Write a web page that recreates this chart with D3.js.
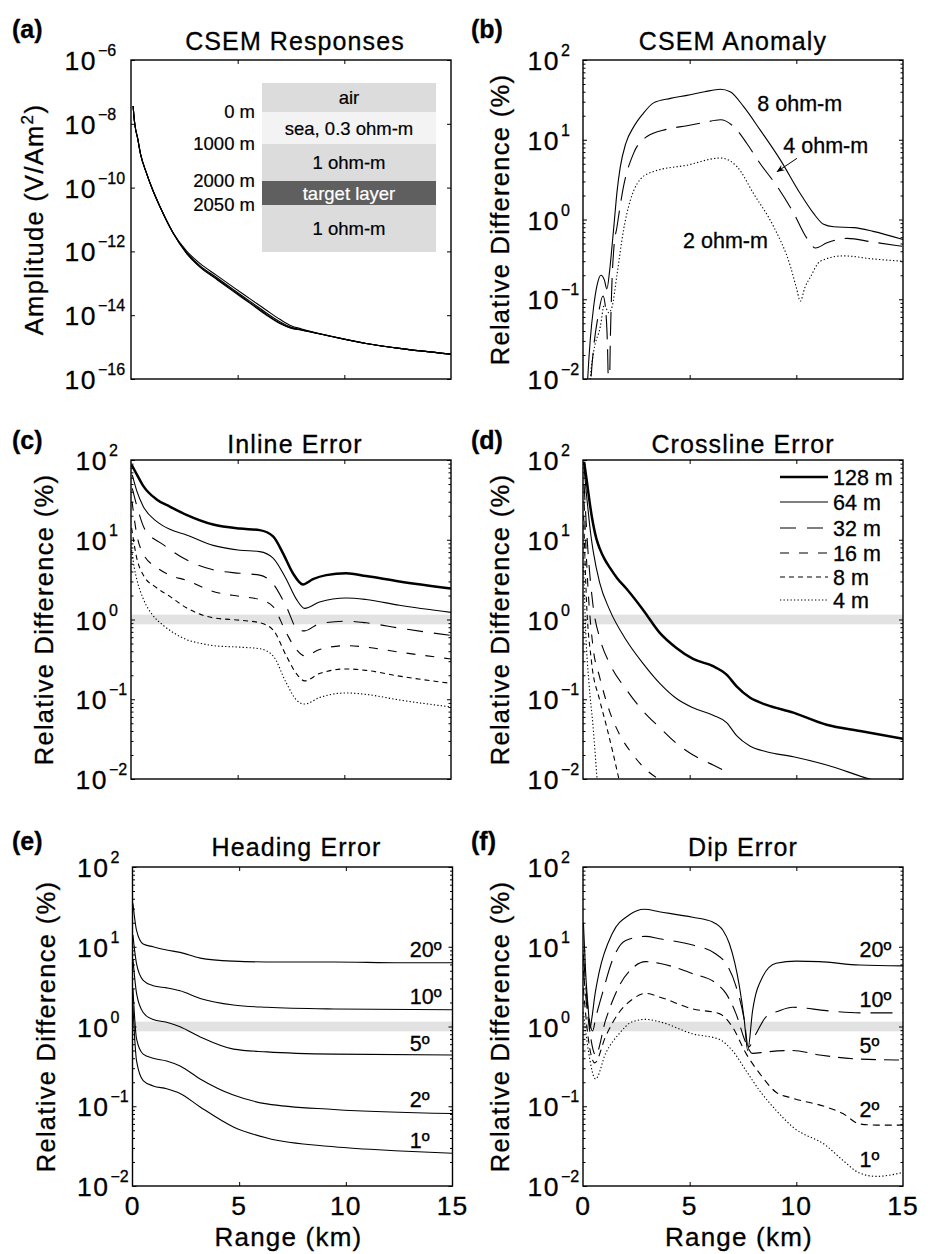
<!DOCTYPE html>
<html>
<head>
<meta charset="utf-8">
<title>CSEM navigation errors</title>
<script src="https://cdn.jsdelivr.net/npm/d3@7"></script>
<style>
  body { margin: 0; background: #fff; }
  svg { display: block; font-family: "Liberation Sans", Arial, Helvetica, sans-serif; }
  text { stroke: #000; stroke-width: 0.3px; }
  .title { font-size: 25px; letter-spacing: 1.1px; text-anchor: middle; }
  .ylab { font-size: 25.5px; letter-spacing: 1.3px; text-anchor: middle; }
  .xlab { font-size: 26px; letter-spacing: 1.2px; text-anchor: middle; }
  .tick10 { font-size: 26.5px; letter-spacing: 1.5px; text-anchor: end; }
  .tickExp { font-size: 16px; }
  .xtick { font-size: 26.5px; letter-spacing: 1px; text-anchor: middle; }
  .letter { font-size: 25px; font-weight: bold; }
  .note { font-size: 21.5px; }
  .inset { font-size: 18.5px; stroke-width: 0.2px; }
  .axis path { display: none; }
  .axis line { stroke: #000; stroke-width: 1; }
</style>
</head>
<body>
<svg id="chart" width="933" height="1254"></svg>
<script>
// ---------- data ----------

// (a) csem responses, amplitude (V/Am^2) vs range (km)
const rangeA = [0.1, 0.15, 0.22, 0.3, 0.45, 0.73, 1.0, 1.36, 1.98, 2.6, 3.23, 4.0, 4.79, 5.6, 6.35, 7.0, 7.5, 8.0, 9.46, 11.02, 12.58, 15];
const ampBackground = [3.6e-8, 1.4e-8, 6.5e-9, 3.8e-9, 1.1e-9, 2.8e-10, 9e-11, 2.5e-11, 3.7e-12, 8.7e-13, 3.2e-13, 1.35e-13, 5.6e-14, 2.3e-14, 1.0e-14, 5.4e-15, 3.9e-15, 3.4e-15, 2.1e-15, 1.3e-15, 9.1e-16, 6.0e-16];
const amp2 = [3.6e-8, 1.4e-8, 6.5e-9, 3.8e-9, 1.1e-9, 2.8e-10, 9e-11, 2.5e-11, 3.7e-12, 9.0e-13, 3.33e-13, 1.42e-13, 5.9e-14, 2.44e-14, 1.06e-14, 5.6e-15, 4.0e-15, 3.42e-15, 2.1e-15, 1.3e-15, 9.1e-16, 6.0e-16];
const amp4 = [3.6e-8, 1.4e-8, 6.5e-9, 3.8e-9, 1.1e-9, 2.8e-10, 9e-11, 2.5e-11, 3.7e-12, 9.4e-13, 3.6e-13, 1.54e-13, 6.4e-14, 2.67e-14, 1.17e-14, 6.1e-15, 4.2e-15, 3.5e-15, 2.12e-15, 1.3e-15, 9.1e-16, 6.0e-16];
const amp8 = [3.6e-8, 1.4e-8, 6.5e-9, 3.8e-9, 1.1e-9, 2.8e-10, 9e-11, 2.5e-11, 3.75e-12, 1.04e-12, 4.2e-13, 1.8e-13, 7.6e-14, 3.2e-14, 1.43e-14, 7.3e-15, 4.7e-15, 3.7e-15, 2.15e-15, 1.3e-15, 9.1e-16, 6.0e-16];
const layerNames = ["air", "sea, 0.3 ohm-m", "1 ohm-m", "target layer", "1 ohm-m"];
const layerDepths = ["0 m", "1000 m", "2000 m", "2050 m"];

// (b) csem anomaly, relative difference (%) : [range km, value]
const anom8 = [[0.15, 0.004], [0.22, 0.01], [0.34, 0.031], [0.5, 0.081], [0.66, 0.15], [0.84, 0.2], [1.0, 0.175], [1.12, 0.135], [1.25, 0.23], [1.36, 0.46], [1.46, 0.9], [1.6, 2.3], [1.75, 4.6], [2.0, 8.9], [2.375, 14.5], [2.8, 21], [3.31, 29], [4.1, 33], [4.875, 36], [5.7, 40], [6.44, 43], [6.9, 40], [7.53, 26], [8.31, 13.2], [9.25, 5.6], [10.19, 2.1], [10.8, 1.2], [11.28, 0.87], [11.75, 0.81], [12.69, 0.79], [13.6, 0.71], [15, 0.56]];
const anom4 = [[0.3, 0.004], [0.375, 0.01], [0.5, 0.025], [0.7, 0.06], [0.94, 0.11], [1.05, 0.08], [1.15, 0.025], [1.22, 0.004], [1.28, 0.03], [1.36, 0.17], [1.45, 0.45], [1.59, 0.8], [1.9, 2.6], [2.375, 6.8], [3.0, 11], [3.9, 13.5], [4.875, 15], [5.7, 16.5], [6.44, 17.8], [7.22, 13.2], [7.69, 8.9], [8.31, 5.0], [9.1, 2.6], [9.875, 1.2], [10.5, 0.58], [10.9, 0.44], [11.44, 0.51], [12.375, 0.58], [13.6, 0.52], [15, 0.46]];
const anom2 = [[0.25, 0.004], [0.34, 0.01], [0.5, 0.022], [0.81, 0.045], [1.0, 0.085], [1.2, 0.068], [1.36, 0.08], [1.59, 0.2], [1.9, 0.74], [2.06, 1.2], [2.69, 3.2], [3.31, 4.0], [4.875, 4.8], [6.44, 5.9], [7.22, 4.6], [8.0, 2.1], [8.94, 0.81], [9.72, 0.26], [10.0, 0.14], [10.19, 0.095], [10.4, 0.14], [10.66, 0.19], [11.125, 0.3], [12.2, 0.35], [13.6, 0.32], [15, 0.3]];
const anomNames = ["8 ohm-m", "4 ohm-m", "2 ohm-m"];

// (c) inline error, relative difference (%)
const inline128 = [[0.03, 87], [0.27, 66], [0.58, 47], [1.2, 32], [1.82, 26], [2.6, 20.5], [3.85, 15.5], [5.1, 13.8], [6.03, 13.2], [6.66, 11], [7.12, 6.8], [7.59, 3.8], [8.06, 2.75], [8.53, 3.2], [9.15, 3.6], [10.09, 3.8], [11.02, 3.5], [12.58, 3.0], [15, 2.45]];
const inline64 = [[0.06, 65], [0.27, 41], [0.58, 26], [1.2, 17], [1.82, 13.5], [2.6, 11.5], [3.85, 8.5], [5.1, 7.4], [6.03, 7.1], [6.66, 5.9], [7.28, 3.2], [7.75, 1.8], [8.14, 1.38], [8.84, 1.66], [10.09, 1.86], [11.02, 1.78], [12.58, 1.51], [15, 1.23]];
const inline32 = [[0.06, 44], [0.34, 23], [0.65, 13.5], [1.51, 8.7], [2.6, 5.6], [3.85, 4.2], [5.1, 3.8], [6.03, 3.6], [6.66, 2.8], [7.28, 1.45], [7.83, 0.74], [8.14, 0.72], [8.84, 0.89], [10.09, 0.95], [11.02, 0.91], [12.58, 0.78], [15, 0.63]];
const inline16 = [[0.05, 30], [0.27, 11.7], [0.58, 6.6], [1.2, 4.5], [1.82, 3.6], [2.6, 3.1], [3.85, 2.25], [5.1, 1.95], [6.03, 1.78], [6.66, 1.45], [7.28, 0.68], [7.75, 0.42], [8.14, 0.35], [8.84, 0.42], [10.09, 0.47], [11.02, 0.45], [12.58, 0.39], [15, 0.32]];
const inline8 = [[0.03, 14], [0.27, 5.9], [0.58, 3.6], [1.2, 2.5], [1.82, 1.95], [2.6, 1.4], [3.85, 1.05], [5.1, 0.98], [6.03, 0.91], [6.66, 0.74], [7.28, 0.35], [7.75, 0.21], [8.14, 0.17], [8.84, 0.21], [10.09, 0.24], [11.02, 0.23], [12.58, 0.195], [15, 0.158]];
const inline4 = [[0.03, 7.4], [0.15, 4.5], [0.27, 3.2], [0.58, 1.8], [1.0, 1.15], [1.5, 0.85], [2.0, 0.68], [2.6, 0.56], [3.3, 0.5], [3.85, 0.47], [5.1, 0.45], [6.03, 0.43], [6.66, 0.35], [7.28, 0.16], [7.75, 0.098], [8.14, 0.087], [8.84, 0.105], [10.09, 0.12], [11.02, 0.115], [12.58, 0.098], [15, 0.08]];

// (d) crossline error, relative difference (%)
const cross128 = [[0.05, 95], [0.15, 62], [0.235, 42], [0.35, 25], [0.47, 16], [0.62, 10.5], [0.78, 7.8], [1.0, 5.8], [1.25, 4.5], [1.6, 3.3], [2.03, 2.45], [2.82, 1.32], [3.6, 0.68], [4.38, 0.44], [5.16, 0.32], [6.1, 0.26], [6.73, 0.204], [7.2, 0.145], [7.82, 0.105], [8.6, 0.085], [9.86, 0.068], [11.42, 0.048], [12.99, 0.04], [15, 0.032]];
const cross64 = [[0.06, 75], [0.15, 40], [0.235, 24], [0.35, 12.5], [0.47, 7.4], [0.78, 2.9], [1.25, 1.32], [2.03, 0.55], [2.82, 0.28], [3.6, 0.158], [4.38, 0.102], [5.16, 0.078], [6.1, 0.063], [6.73, 0.051], [7.2, 0.035], [7.82, 0.026], [8.6, 0.022], [9.86, 0.019], [11.42, 0.015], [13.43, 0.01], [15, 0.0078]];
const cross32 = [[0.05, 50], [0.23, 7.4], [0.47, 1.5], [0.8, 0.57], [1.25, 0.28], [2.03, 0.132], [2.82, 0.071], [3.6, 0.044], [4.38, 0.028], [5.16, 0.02], [6.1, 0.015], [6.73, 0.0123]];
const cross16 = [[0.05, 30], [0.23, 2.6], [0.47, 0.45], [0.78, 0.19], [1.25, 0.07], [1.72, 0.036], [2.35, 0.02], [2.97, 0.013], [3.6, 0.0098]];
const cross8 = [[0.03, 20], [0.16, 1.8], [0.39, 0.31], [0.78, 0.098], [1.1, 0.046], [1.41, 0.021], [1.69, 0.0098]];
const cross4 = [[0.03, 4.6], [0.13, 0.68], [0.28, 0.16], [0.47, 0.046], [0.66, 0.0098]];
const offsetNames = ["128 m", "64 m", "32 m", "16 m", "8 m", "4 m"];

// (e) heading error, relative difference (%)
const heading20 = [[0.02, 35], [0.19, 16], [0.5, 10.8], [0.97, 10], [1.6, 9.1], [2.23, 8.5], [3.17, 7.2], [4.73, 6.6], [6.3, 6.45], [9.44, 6.45], [12.57, 6.3], [15, 6.3]];
const heading10 = [[0.02, 14], [0.19, 6.1], [0.5, 3.8], [0.97, 3.25], [1.6, 3.05], [2.23, 2.8], [3.17, 2.25], [4.73, 1.86], [6.3, 1.74], [9.44, 1.66], [15, 1.62]];
const heading5 = [[0.02, 7], [0.19, 2.6], [0.5, 1.5], [0.97, 1.22], [1.6, 1.13], [2.23, 0.99], [3.17, 0.74], [4.73, 0.52], [6.3, 0.48], [9.44, 0.45], [15, 0.44]];
const heading2 = [[0.02, 3], [0.19, 0.7], [0.5, 0.45], [0.97, 0.4], [1.6, 0.37], [2.23, 0.32], [3.17, 0.22], [4.73, 0.138], [6.3, 0.107], [9.44, 0.091], [15, 0.081]];
const heading1 = [[0.02, 1.8], [0.19, 0.37], [0.5, 0.21], [0.97, 0.18], [1.6, 0.166], [2.23, 0.145], [3.17, 0.098], [4.73, 0.055], [6.3, 0.04], [9.44, 0.031], [12.57, 0.0275], [15, 0.0257]];

// (f) dip error, relative difference (%)
const dip20 = [[0.02, 20], [0.12, 5], [0.25, 1.6], [0.33, 0.95], [0.42, 1.3], [0.55, 2.4], [0.75, 4.7], [1.38, 14.8], [2.16, 25], [2.87, 29.5], [3.57, 27.5], [5.14, 23.4], [6.08, 20.4], [6.55, 16.2], [6.86, 11], [7.33, 3.2], [7.56, 1.2], [7.72, 0.5], [7.95, 1.58], [8.42, 4.2], [9.05, 6.2], [9.99, 6.6], [11.07, 6.5], [12.97, 5.9], [15, 5.75]];
const dip10 = [[0.02, 8], [0.2, 2], [0.45, 0.88], [0.6, 1.3], [0.91, 2.6], [1.38, 6.8], [2.0, 12], [2.94, 13.5], [3.57, 12.6], [5.14, 10.5], [6.23, 8.1], [6.7, 6.2], [7.17, 3.2], [7.56, 1.2], [7.75, 0.55], [8.11, 0.81], [8.58, 1.32], [9.21, 1.58], [9.83, 1.74], [11.4, 1.58], [12.97, 1.48], [15, 1.48]];
const dip5 = [[0.02, 5], [0.25, 1.2], [0.59, 0.44], [1.06, 1.2], [1.69, 3.2], [2.32, 5.4], [2.94, 6.5], [3.57, 6.2], [5.14, 4.6], [6.23, 3.5], [6.7, 2.6], [7.17, 1.45], [7.64, 0.62], [7.95, 0.46], [8.58, 0.48], [9.83, 0.5], [11.09, 0.44], [12.97, 0.39], [15, 0.38]];
const dip2 = [[0.02, 3], [0.25, 0.7], [0.55, 0.35], [1.06, 0.75], [1.69, 1.5], [2.32, 2.2], [2.94, 2.6], [3.57, 2.35], [5.14, 1.66], [6.39, 1.45], [7.0, 0.99], [7.64, 0.46], [8.27, 0.26], [9.05, 0.15], [9.83, 0.126], [11.4, 0.098], [12.18, 0.081], [12.97, 0.06], [13.75, 0.058], [15, 0.058]];
const dip1 = [[0.02, 1.5], [0.25, 0.5], [0.59, 0.22], [1.06, 0.46], [1.69, 0.81], [2.32, 1.15], [2.94, 1.23], [3.57, 1.15], [5.14, 0.81], [6.39, 0.69], [7.0, 0.5], [7.64, 0.28], [8.27, 0.158], [9.05, 0.089], [9.83, 0.055], [11.4, 0.032], [12.18, 0.021], [12.97, 0.0145], [13.75, 0.0132], [15, 0.0148]];
const angleNames = ["20º", "10º", "5º", "2º", "1º"];

// 1% noise floor band
const bandLow = 0.87, bandHigh = 1.15;
const xTicks = [0, 5, 10, 15];

// ---------- layout ----------
const cols = [131, 583];
const rows = [60, 460, 867];
const pw = 320, ph = 319;
const letterBase = [38, 449, 850];
const titleBase = [50, 453, 856];

const st = {
  thick:  {w: 2.5, dash: null},
  solid:  {w: 1.1, dash: null},
  long:   {w: 1.1, dash: "16,11"},
  medium: {w: 1.1, dash: "9,10"},
  short:  {w: 1.1, dash: "5,4"},
  dotted: {w: 1.1, dash: "1.3,2.2"},
  bDash:  {w: 1.1, dash: "24,10"},
  fLong:  {w: 1.1, dash: "22,10"},
  fMed:   {w: 1.1, dash: "15,8"},
  fShort: {w: 1.1, dash: "7,5"}
};

const minorTicks = (a, b) => {
  let out = [];
  for (let e = a; e < b; e++) for (let m = 2; m <= 9; m++) out.push(m * Math.pow(10, e));
  return out;
};

const relLabel = "Relative Difference (%)";

const panels = [
  {letter: "(a)", col: 0, row: 0, title: "CSEM Responses", yDomain: [1e-16, 1e-6], exps: d3.range(-16, -5, 2), minor: [], tickOffset: 34, band: false, ylabDx: -88,
   series: [[rangeA.map((r, i) => [r, ampBackground[i]]), st.solid], [rangeA.map((r, i) => [r, amp2[i]]), st.solid], [rangeA.map((r, i) => [r, amp4[i]]), st.solid], [rangeA.map((r, i) => [r, amp8[i]]), st.solid]]},
  {letter: "(b)", col: 1, row: 0, title: "CSEM Anomaly", titleDx: -10, yDomain: [1e-2, 1e2], exps: d3.range(-2, 3), minor: minorTicks(-2, 2), tickOffset: 23, band: false, ylabDx: -74,
   series: [[anom8, st.solid], [anom4, st.bDash], [anom2, st.dotted]]},
  {letter: "(c)", col: 0, row: 1, title: "Inline Error", yDomain: [1e-2, 1e2], exps: d3.range(-2, 3), minor: minorTicks(-2, 2), tickOffset: 23, band: true, ylabDx: -78,
   series: [[inline128, st.thick], [inline64, st.solid], [inline32, st.long], [inline16, st.medium], [inline8, st.short], [inline4, st.dotted]]},
  {letter: "(d)", col: 1, row: 1, title: "Crossline Error", yDomain: [1e-2, 1e2], exps: d3.range(-2, 3), minor: minorTicks(-2, 2), tickOffset: 23, band: true, ylabDx: -74,
   series: [[cross128, st.thick], [cross64, st.solid], [cross32, st.long], [cross16, st.medium], [cross8, st.short], [cross4, st.dotted]]},
  {letter: "(e)", col: 0, row: 2, title: "Heading Error", yDomain: [1e-2, 1e2], exps: d3.range(-2, 3), minor: minorTicks(-2, 2), tickOffset: 23, band: true, ylabDx: -78,
   series: [[heading20, st.solid], [heading10, st.solid], [heading5, st.solid], [heading2, st.solid], [heading1, st.solid]]},
  {letter: "(f)", col: 1, row: 2, title: "Dip Error", yDomain: [1e-2, 1e2], exps: d3.range(-2, 3), minor: minorTicks(-2, 2), tickOffset: 23, band: true, ylabDx: -74,
   series: [[dip20, st.solid], [dip10, st.fLong], [dip5, st.fMed], [dip2, st.fShort], [dip1, st.dotted]]}
];

// ---------- drawing ----------
const svg = d3.select("#chart");
svg.append("rect").attr("width", 933).attr("height", 1254).attr("fill", "#fff");

panels.forEach((p, pi) => {
  const left = cols[p.col] + (p.row === 2 && p.col === 0 ? 1.5 : 0);
  const top = rows[p.row];
  const g = svg.append("g").attr("transform", `translate(${left},${top})`);
  const x = d3.scaleLinear().domain([0, 15]).range([0, pw]);
  const y = d3.scaleLog().domain(p.yDomain).range([ph, 0]);
  p.x = x; p.y = y; p.g = g;

  g.append("clipPath").attr("id", "clip" + pi)
    .append("rect").attr("width", pw).attr("height", ph);
  const plot = g.append("g").attr("clip-path", `url(#clip${pi})`);

  if (p.band) {
    plot.append("rect")
      .attr("x", 0).attr("width", pw)
      .attr("y", y(bandHigh)).attr("height", y(bandLow) - y(bandHigh))
      .attr("fill", "#e2e2e2");
  }

  const line = d3.line()
    .x(d => x(d[0]))
    .y(d => y(d[1]))
    .curve(d3.curveMonotoneX);

  p.series.forEach(([data, s]) => {
    plot.append("path")
      .attr("d", line(data))
      .attr("fill", "none")
      .attr("stroke", "#000")
      .attr("stroke-width", s.w)
      .attr("stroke-dasharray", s.dash)
      .attr("stroke-linejoin", "round");
  });

  // ticks, all inside the box
  const majors = p.exps.map(e => Math.pow(10, e));
  g.append("g").attr("class", "axis").attr("transform", `translate(0,${ph})`)
    .call(d3.axisBottom(x).tickValues([5, 10]).tickSizeInner(-4).tickSizeOuter(0).tickFormat(""));
  g.append("g").attr("class", "axis")
    .call(d3.axisTop(x).tickValues([5, 10]).tickSizeInner(-4).tickSizeOuter(0).tickFormat(""));
  g.append("g").attr("class", "axis")
    .call(d3.axisLeft(y).tickValues(majors).tickSizeInner(-4).tickSizeOuter(0).tickFormat(""));
  g.append("g").attr("class", "axis").attr("transform", `translate(${pw},0)`)
    .call(d3.axisRight(y).tickValues(majors).tickSizeInner(-4).tickSizeOuter(0).tickFormat(""));
  if (p.minor.length) {
    g.append("g").attr("class", "axis")
      .call(d3.axisLeft(y).tickValues(p.minor).tickSizeInner(-2.5).tickSizeOuter(0).tickFormat(""));
    g.append("g").attr("class", "axis").attr("transform", `translate(${pw},0)`)
      .call(d3.axisRight(y).tickValues(p.minor).tickSizeInner(-2.5).tickSizeOuter(0).tickFormat(""));
  }

  g.append("rect")
    .attr("width", pw).attr("height", ph)
    .attr("fill", "none").attr("stroke", "#000").attr("stroke-width", 1.4);

  // y tick labels as 10^n
  p.exps.forEach(e => {
    const ty = y(Math.pow(10, e));
    g.append("text").attr("class", "tick10")
      .attr("x", -p.tickOffset).attr("y", ty + 10).text("10");
    g.append("text").attr("class", "tickExp")
      .attr("x", -p.tickOffset + 1).attr("y", ty - 4)
      .text(e < 0 ? "\u2212" + Math.abs(e) : String(e));
  });

  // x tick labels on bottom row only
  if (p.row === 2) {
    g.selectAll(".xtick").data(xTicks).enter().append("text")
      .attr("class", "xtick")
      .attr("x", d => x(d)).attr("y", ph + 29)
      .text(d => d);
    g.append("text").attr("class", "xlab")
      .attr("x", pw / 2 - 4).attr("y", ph + 60).text("Range (km)");
  }

  // title, panel letter, y label
  svg.append("text").attr("class", "title")
    .attr("x", left + pw / 2 + (p.col === 0 ? 4 : 0) + (p.titleDx || 0))
    .attr("y", titleBase[p.row]).text(p.title);
  svg.append("text").attr("class", "letter")
    .attr("x", p.col === 0 ? 12 : 471).attr("y", letterBase[p.row]).text(p.letter);

  const yl = g.append("text").attr("class", "ylab")
    .attr("transform", `translate(${p.ylabDx},${ph / 2}) rotate(-90)`);
  if (p.letter === "(a)") {
    yl.append("tspan").text("Amplitude (V/Am");
    yl.append("tspan").attr("dy", -10).style("font-size", "17px").text("2");
    yl.append("tspan").attr("dy", 10).text(")");
  } else {
    yl.text(relLabel);
  }
});

// ---------- annotations ----------

// (a) layered earth model inset
const pa = panels[0];
const layerEdges = [23, 52, 84, 121, 145, 192];
const layerFills = ["#dcdcdc", "#f3f3f3", "#dcdcdc", "#5f5f5f", "#dcdcdc"];
const insetX0 = 131, insetX1 = 305;
layerNames.forEach((name, i) => {
  pa.g.append("rect")
    .attr("x", insetX0).attr("width", insetX1 - insetX0)
    .attr("y", layerEdges[i]).attr("height", layerEdges[i + 1] - layerEdges[i])
    .attr("fill", layerFills[i]);
  pa.g.append("text").attr("class", "inset")
    .attr("x", (insetX0 + insetX1) / 2)
    .attr("y", (layerEdges[i] + layerEdges[i + 1]) / 2 + 6.5)
    .attr("text-anchor", "middle")
    .attr("fill", i === 3 ? "#fff" : "#000")
    .style("stroke", i === 3 ? "#fff" : "#000")
    .text(name);
});
layerDepths.forEach((d, i) => {
  pa.g.append("text").attr("class", "inset")
    .attr("x", insetX0 - 7).attr("y", layerEdges[i + 1] + 6)
    .attr("text-anchor", "end").text(d);
});

// (b) curve labels and arrow
const pb = panels[1];
const anomLabelPos = [[8.17, 22.9], [9.39, 6.8], [4.69, 0.44]];
anomNames.forEach((n, i) => {
  pb.g.append("text").attr("class", "note")
    .attr("x", pb.x(anomLabelPos[i][0])).attr("y", pb.y(anomLabelPos[i][1]))
    .text(n);
});
svg.append("defs").append("marker")
  .attr("id", "arrow").attr("viewBox", "0 0 10 10")
  .attr("refX", 9).attr("refY", 5)
  .attr("markerWidth", 8).attr("markerHeight", 8)
  .attr("orient", "auto")
  .append("path").attr("d", "M0,1 L10,5 L0,9 L3,5 Z").attr("fill", "#000");
pb.g.append("line")
  .attr("x1", pb.x(10.03)).attr("y1", pb.y(5.85))
  .attr("x2", pb.x(9.1)).attr("y2", pb.y(3.98))
  .attr("stroke", "#000").attr("stroke-width", 1)
  .attr("marker-end", "url(#arrow)");

// (d) legend
const pd = panels[3];
const legendStyles = [st.thick, st.solid, st.long, st.medium, st.short, st.dotted];
const legendRowY = [17, 42, 68, 93, 117, 140];
offsetNames.forEach((n, i) => {
  pd.g.append("line")
    .attr("x1", 197).attr("x2", 245)
    .attr("y1", legendRowY[i]).attr("y2", legendRowY[i])
    .attr("stroke", "#000")
    .attr("stroke-width", legendStyles[i].w)
    .attr("stroke-dasharray", legendStyles[i].dash);
  pd.g.append("text").attr("class", "note")
    .attr("x", 250).attr("y", legendRowY[i] + 7.5)
    .text(n);
});

// (e) and (f) angle labels
const headingLabelPos = [[13.0, 7.45], [13.0, 1.9], [13.0, 0.49], [13.0, 0.098], [13.0, 0.03]];
const dipLabelPos = [[12.96, 7.45], [12.96, 1.76], [12.96, 0.46], [12.96, 0.074], [12.96, 0.0174]];
[[panels[4], headingLabelPos], [panels[5], dipLabelPos]].forEach(([p, pos]) => {
  angleNames.forEach((n, i) => {
    p.g.append("text").attr("class", "note")
      .attr("x", p.x(pos[i][0])).attr("y", p.y(pos[i][1]))
      .style("font-size", "21.5px")
      .text(n);
  });
});
</script>
</body>
</html>
